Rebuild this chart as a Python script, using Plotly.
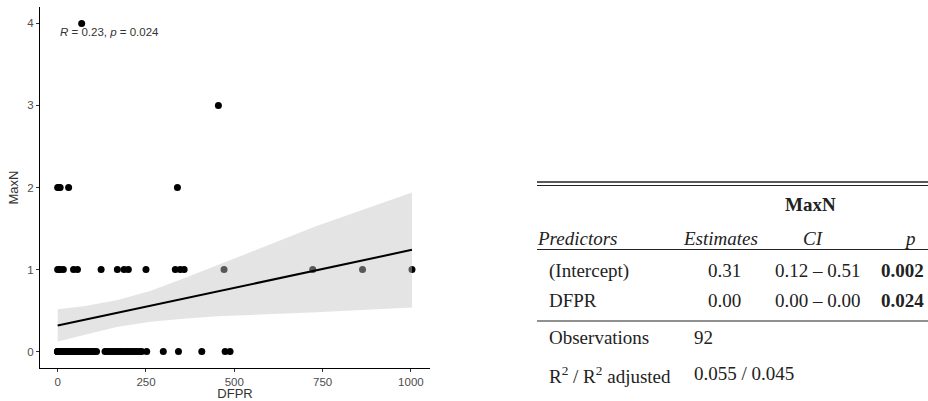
import plotly.graph_objects as go

# ---------------- data ----------------
dfpr_y0 = [0, 0, 0, 0, 1, 2, 3, 3, 5, 6, 8, 9, 11, 13, 15, 18, 20, 22, 25, 28,
           31, 34, 37, 41, 45, 48, 52, 57, 61, 64, 68, 72, 77, 81, 85, 89, 94,
           99, 104, 110, 134, 139, 146, 151, 158, 163, 170, 176, 181, 188, 194,
           199, 206, 211, 218, 224, 231, 238, 252, 299, 342, 408, 474, 488,
           1, 4, 7]
dfpr_y1 = [0, 4, 7, 16, 45, 56, 123, 169, 188, 200, 250, 333, 347, 358, 471,
           722, 863, 1003]
dfpr_y2 = [0, 3, 7, 31, 339]
dfpr_y3 = [455]
dfpr_y4 = [68]

fit_x = [0, 1003]
fit_y = [0.317, 1.240]
band_x = [0, 73, 167, 262, 356, 450, 545, 733, 1003]
band_upper = [0.517, 0.552, 0.625, 0.740, 0.890, 1.050, 1.215, 1.530, 1.940]
band_lower = [0.122, 0.200, 0.300, 0.365, 0.400, 0.430, 0.445, 0.480, 0.537]

x_ticks = [0, 250, 500, 750, 1000]
y_ticks = [0, 1, 2, 3, 4]
cor_text = "<i>R</i> = 0.23, <i>p</i> = 0.024"

model_name = "MaxN"
col_headers = ["Predictors", "Estimates", "CI", "p"]
predictors = ["(Intercept)", "DFPR"]
estimates = ["0.31", "0.00"]
ci_text = ["0.12 \u2013 0.51", "0.00 \u2013 0.00"]
p_text = ["0.002", "0.024"]
n_obs = "92"
r2_text = "0.055 / 0.045"

# ---------------- figure ----------------
xs, ys = [], []
for val, arr in [(0, dfpr_y0), (1, dfpr_y1), (2, dfpr_y2), (3, dfpr_y3), (4, dfpr_y4)]:
    xs += arr
    ys += [val] * len(arr)

fig = go.Figure()
fig.add_trace(go.Scatter(x=xs, y=ys, mode="markers",
                         marker=dict(color="black", size=7, line=dict(width=0)),
                         showlegend=False, hoverinfo="skip", cliponaxis=False))
fig.add_trace(go.Scatter(x=band_x + band_x[::-1], y=band_upper + band_lower[::-1],
                         mode="lines", fill="toself",
                         fillcolor="rgba(196,196,196,0.45)", line=dict(width=0),
                         showlegend=False, hoverinfo="skip"))
fig.add_trace(go.Scatter(x=fit_x, y=fit_y, mode="lines",
                         line=dict(color="black", width=2),
                         showlegend=False, hoverinfo="skip"))

W, H = 928, 401
ML, MR, MT, MB = 40, 0, 7, 33
pw = W - ML - MR
ph = H - MT - MB


def px2paper(x, y):
    return (x - ML) / pw, (H - MB - y) / ph


fig.update_layout(
    width=W, height=H,
    margin=dict(l=ML, r=MR, t=MT, b=MB),
    paper_bgcolor="white", plot_bgcolor="white",
    font=dict(family="Liberation Sans, Arial, sans-serif", color="#4d4d4d"),
    xaxis=dict(domain=[0, 390 / pw], range=[-50, 1054], tickvals=x_ticks,
               showgrid=False, zeroline=False, showline=True, linecolor="black",
               linewidth=1, ticks="outside", ticklen=3, tickcolor="#333",
               tickfont=dict(size=11.5, color="#4d4d4d"),
               title=dict(text="DFPR", font=dict(size=13, color="#333"), standoff=1)),
    yaxis=dict(range=[-0.2, 4.2], tickvals=y_ticks,
               showgrid=False, zeroline=False, showline=True, linecolor="black",
               linewidth=1, ticks="outside", ticklen=3, tickcolor="#333",
               tickfont=dict(size=11.5, color="#4d4d4d"),
               title=dict(text="MaxN", font=dict(size=13, color="#333"), standoff=5)),
)

fig.add_annotation(x=0, y=3.89, xref="x", yref="y", text=cor_text, showarrow=False,
                   xanchor="left", yanchor="middle",
                   font=dict(size=11.5, color="#333", family="Liberation Sans, Arial"))

serif = "Liberation Serif, Times New Roman, serif"
TF = 19
tcol = "#222"


def txt(x, y, s, anchor="left", bold=False, italic=False, size=TF):
    if bold:
        s = "<b>" + s + "</b>"
    if italic:
        s = "<i>" + s + "</i>"
    px, py = px2paper(x, y)
    fig.add_annotation(x=px, y=py, xref="paper", yref="paper", text=s, showarrow=False,
                       xanchor=anchor, yanchor="middle",
                       font=dict(family=serif, size=size, color=tcol))


def hline(y, x0=537, x1=928, w=1.2):
    a0, b0 = px2paper(x0, y)
    a1, b1 = px2paper(x1, y)
    fig.add_shape(type="line", xref="paper", yref="paper", x0=a0, x1=a1, y0=b0, y1=b1,
                  line=dict(color="#222", width=w))


hline(182, w=1.5)
hline(185.5, w=1)
txt(810, 204, model_name, anchor="center", bold=True)
txt(535, 238, col_headers[0], italic=True)
txt(720, 238, col_headers[1], anchor="center", italic=True)
txt(813, 238, col_headers[2], anchor="center", italic=True)
txt(910, 238, col_headers[3], anchor="center", italic=True)
hline(249.5)
row_y = [270.7, 300.7]
for i in range(len(predictors)):
    txt(547, row_y[i], predictors[i])
    txt(724, row_y[i], estimates[i], anchor="center")
    txt(818, row_y[i], ci_text[i], anchor="center")
    txt(879, row_y[i], p_text[i], bold=True)
hline(321)
txt(547, 337, "Observations")
txt(692, 337, n_obs)
txt(547, 375, "R<sup>2</sup> / R<sup>2</sup> adjusted")
txt(692, 373, r2_text)

fig.write_html("out.html")
